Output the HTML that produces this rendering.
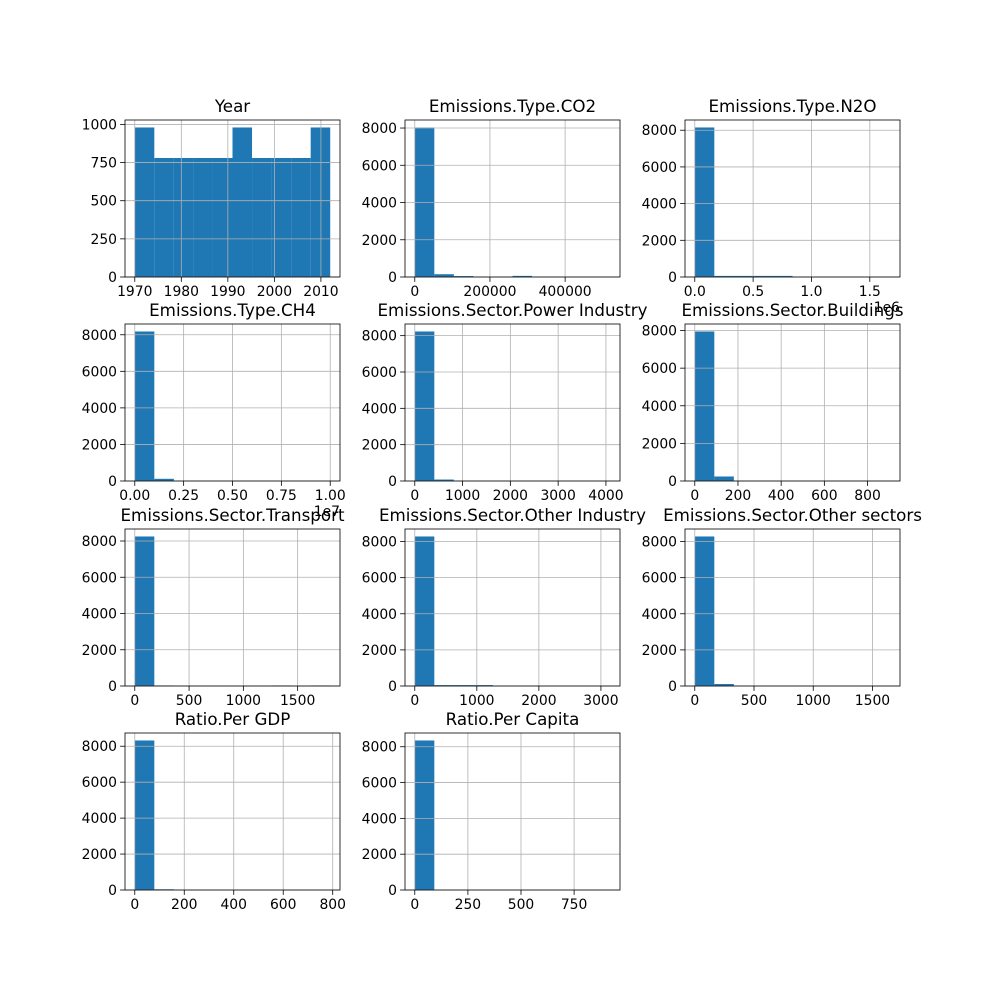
<!DOCTYPE html>
<html><head><meta charset="utf-8">
<style>
html,body{margin:0;padding:0;background:#fff;}
svg{display:block;font-family:"DejaVu Sans","Liberation Sans",sans-serif;}
</style></head>
<body>
<svg id="fig" width="1000" height="1000" viewBox="0 0 1000 1000"></svg>
<script>
// ---- data ----
const titles = ["Year","Emissions.Type.CO2","Emissions.Type.N2O","Emissions.Type.CH4","Emissions.Sector.Power Industry","Emissions.Sector.Buildings","Emissions.Sector.Transport","Emissions.Sector.Other Industry","Emissions.Sector.Other sectors","Ratio.Per GDP","Ratio.Per Capita"];
const dataMin = [1970,0,0,0,0,0,0,0,0,0,0];
const dataMax = [2012,520000,1.675,1.0,4090,905,1800,3150,1650,790,920];
const counts = [
  [980,780,780,780,780,980,780,780,780,980],
  [8030,150,50,0,0,60,0,0,0,0],
  [8150,60,60,60,60,0,0,0,0,0],
  [8180,120,0,0,0,0,0,0,0,0],
  [8230,80,0,0,0,0,0,0,0,0],
  [7950,240,0,0,0,0,0,0,0,0],
  [8250,30,0,0,0,0,0,30,0,30],
  [8280,50,50,50,0,0,0,0,0,0],
  [8280,110,0,0,0,0,0,0,0,0],
  [8320,40,0,0,0,0,0,0,0,0],
  [8350,0,0,0,0,0,0,0,0,0]
];
const xTicks = [
  [1970,1980,1990,2000,2010],
  [0,200000,400000],
  [0,0.5,1.0,1.5],
  [0,0.25,0.5,0.75,1.0],
  [0,1000,2000,3000,4000],
  [0,200,400,600,800],
  [0,500,1000,1500],
  [0,1000,2000,3000],
  [0,500,1000,1500],
  [0,200,400,600,800],
  [0,250,500,750]
];
const xTickLabels = [
  ["1970","1980","1990","2000","2010"],
  ["0","200000","400000"],
  ["0.0","0.5","1.0","1.5"],
  ["0.00","0.25","0.50","0.75","1.00"],
  ["0","1000","2000","3000","4000"],
  ["0","200","400","600","800"],
  ["0","500","1000","1500"],
  ["0","1000","2000","3000"],
  ["0","500","1000","1500"],
  ["0","200","400","600","800"],
  ["0","250","500","750"]
];
const offsetLabels = ["","","1e6","1e7","","","","","","",""];
const yTicksSmall = [0,250,500,750,1000];
const yTicksLarge = [0,2000,4000,6000,8000];

// ---- layout ----
const NS="http://www.w3.org/2000/svg";
const svg=document.getElementById('fig');
const colX=[125,405,685], rowY=[120,324,529,733], W=215, H=157;
function mk(tag,attrs,parent){const e=document.createElementNS(NS,tag);for(const k in attrs)e.setAttribute(k,attrs[k]);(parent||svg).appendChild(e);return e;}

titles.forEach((t,i)=>{
  const x0=colX[i%3], y0=rowY[Math.floor(i/3)];
  const g=mk('g',{});
  
  
  const span=dataMax[i]-dataMin[i];
  const lo=dataMin[i]-0.05*span, hi=dataMax[i]+0.05*span;
  const sx=v=>x0+(v-lo)/(hi-lo)*W;
  const cmax=Math.max(...counts[i]);
  const ymax=cmax*1.05;
  const sy=v=>y0+H-(v/ymax)*H;
  const yt = cmax<2000 ? yTicksSmall : yTicksLarge;
  // bars
  const bw=span/10;
  counts[i].forEach((c,j)=>{
    if(c<=0) return;
    const r=mk('rect',{x:sx(dataMin[i]+j*bw),y:sy(c),width:sx(dataMin[i]+(j+1)*bw)-sx(dataMin[i]+j*bw),height:sy(0)-sy(c),fill:'#1f77b4'},g);
    
    
  });
  // grid
  xTicks[i].forEach(v=>{mk('line',{x1:sx(v),x2:sx(v),y1:y0,y2:y0+H,stroke:'#b0b0b0','stroke-width':0.8},g);});
  yt.forEach(v=>{if(v<=ymax) mk('line',{x1:x0,x2:x0+W,y1:sy(v),y2:sy(v),stroke:'#b0b0b0','stroke-width':0.8},g);});
  // frame
  const fr=mk('rect',{x:x0,y:y0,width:W,height:H,fill:'none',stroke:'#000','stroke-width':0.8},g);
  
  
  // x ticks
  xTicks[i].forEach((v,k)=>{
    mk('line',{x1:sx(v),x2:sx(v),y1:y0+H,y2:y0+H+4.9,stroke:'#000','stroke-width':0.8},g);
    const tx=mk('text',{x:sx(v),y:y0+H+19,'font-size':13.9,'text-anchor':'middle',fill:'#000'},g);
    tx.textContent=xTickLabels[i][k];
    
    
  });
  // y ticks
  yt.forEach(v=>{
    if(v>ymax) return;
    mk('line',{x1:x0-4.9,x2:x0,y1:sy(v),y2:sy(v),stroke:'#000','stroke-width':0.8},g);
    const ty=mk('text',{x:x0-8,y:sy(v)+5,'font-size':13.9,'text-anchor':'end',fill:'#000'},g);
    ty.textContent=String(v);
    
    
  });
  // offset label
  if(offsetLabels[i]){
    const o=mk('text',{x:x0+W,y:y0+H+35,'font-size':13.9,'text-anchor':'end',fill:'#000'},g);
    o.textContent=offsetLabels[i];
    
    
  }
  // title
  const tt=mk('text',{x:x0+W/2,y:y0-8,'font-size':16.7,'text-anchor':'middle',fill:'#000'},g);
  tt.textContent=t;
  
  
});
</script>
</body></html>
